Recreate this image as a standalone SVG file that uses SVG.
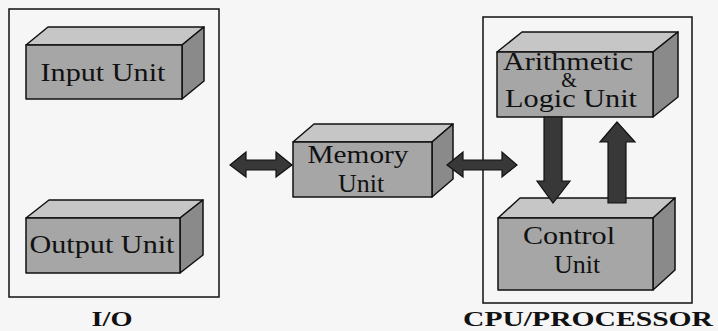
<svg xmlns="http://www.w3.org/2000/svg" width="718" height="331" viewBox="0 0 718 331">
<style>
.frame{fill:none;stroke:#111;stroke-width:1.5}
.front{fill:#a6a6a6;stroke:#111;stroke-width:1.5;stroke-linejoin:round}
.top{fill:#c6c6c6;stroke:#111;stroke-width:1.5;stroke-linejoin:round}
.side{fill:#8a8a8a;stroke:#111;stroke-width:1.5;stroke-linejoin:round}
.lbl{font-family:'Liberation Serif','DejaVu Serif',serif;font-size:26px;fill:#111;text-anchor:middle}
.amp{font-family:'Liberation Serif','DejaVu Serif',serif;font-size:20px;fill:#111;text-anchor:middle}
.cap{font-family:'Liberation Serif','DejaVu Serif',serif;font-size:22px;font-weight:bold;fill:#111;text-anchor:middle}
.arr{fill:#383838;stroke:#111;stroke-width:1.2;stroke-linejoin:miter}
</style>
<rect width="718" height="331" fill="#f6f6f6"/>
<g id="io-group">
<rect class="frame" x="9" y="9" width="210" height="288"/>
<text class="cap" x="112" y="326" textLength="41" lengthAdjust="spacingAndGlyphs">I/O</text>
</g>
<g id="cpu-group">
<rect class="frame" x="483" y="17" width="209" height="286"/>
<text class="cap" x="588" y="326" textLength="250" lengthAdjust="spacingAndGlyphs">CPU/PROCESSOR</text>
</g>
<g id="input-unit">
<polygon class="top" points="26,45 48,27 204,27 182,45"/>
<polygon class="side" points="182,45 204,27 204,81 182,99"/>
<rect class="front" x="26" y="45" width="156" height="54"/>
<text class="lbl" x="103" y="81" textLength="125" lengthAdjust="spacingAndGlyphs">Input Unit</text>
</g>
<g id="output-unit">
<polygon class="top" points="26,218 49,200 203,200 180,218"/>
<polygon class="side" points="180,218 203,200 203,255 180,273"/>
<rect class="front" x="26" y="218" width="154" height="55"/>
<text class="lbl" x="102" y="253" textLength="145" lengthAdjust="spacingAndGlyphs">Output Unit</text>
</g>
<g id="memory-unit">
<polygon class="top" points="293,142 314,124 453,124 432,142"/>
<polygon class="side" points="432,142 453,124 453,179 432,197"/>
<rect class="front" x="293" y="142" width="139" height="55"/>
<text class="lbl" x="358" y="163" textLength="101" lengthAdjust="spacingAndGlyphs">Memory</text>
<text class="lbl" x="361" y="192">Unit</text>
</g>
<g id="alu">
<polygon class="top" points="497,52 522,32 678,32 653,52"/>
<polygon class="side" points="653,52 678,32 678,97 653,117"/>
<rect class="front" x="497" y="52" width="156" height="65"/>
<text class="lbl" x="568" y="70" textLength="130" lengthAdjust="spacingAndGlyphs">Arithmetic</text>
<text class="amp" x="569" y="87">&amp;</text>
<text class="lbl" x="571" y="107" textLength="132" lengthAdjust="spacingAndGlyphs">Logic Unit</text>
</g>
<g id="control-unit">
<polygon class="top" points="498,218 520,198 675,198 653,218"/>
<polygon class="side" points="653,218 675,198 675,270 653,290"/>
<rect class="front" x="498" y="218" width="155" height="72"/>
<text class="lbl" x="569" y="244" textLength="92" lengthAdjust="spacingAndGlyphs">Control</text>
<text class="lbl" x="577" y="273">Unit</text>
</g>
<g id="connectors">
<polygon class="arr" points="230,165 246,152 246,160 276,160 276,152 292,165 276,177 276,170 246,170 246,177"/>
<polygon class="arr" points="447,165 463,152 463,160 502,160 502,152 517,165 502,177 502,170 463,170 463,177"/>
<polygon class="arr" points="544,117 562,117 562,181 570,181 553,203 537,181 544,181"/>
<polygon class="arr" points="608,203 626,203 626,142 635,142 617,122 600,142 608,142"/>
</g>
</svg>
